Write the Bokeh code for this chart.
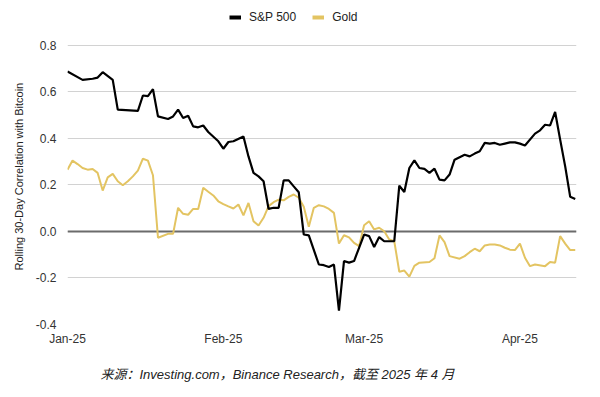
import pandas as pd
from datetime import datetime
from bokeh.plotting import figure
from bokeh.models import (ColumnDataSource, FixedTicker, DatetimeTickFormatter, Span,
                          Legend, LegendItem, Title, Range1d, NumeralTickFormatter)
from bokeh.embed import file_html
from bokeh.resources import INLINE

# ---------------- data ----------------
sp_dates = ["2025-01-01", "2025-01-04", "2025-01-06", "2025-01-07", "2025-01-08", "2025-01-10",
            "2025-01-11", "2025-01-15", "2025-01-16", "2025-01-17", "2025-01-18", "2025-01-19",
            "2025-01-21", "2025-01-22", "2025-01-23", "2025-01-24", "2025-01-25", "2025-01-26",
            "2025-01-27", "2025-01-28", "2025-01-29", "2025-01-31", "2025-02-01", "2025-02-02",
            "2025-02-03", "2025-02-05", "2025-02-06", "2025-02-07", "2025-02-08", "2025-02-09",
            "2025-02-10", "2025-02-11", "2025-02-12", "2025-02-13", "2025-02-14", "2025-02-15",
            "2025-02-16", "2025-02-17", "2025-02-18", "2025-02-20", "2025-02-21", "2025-02-22",
            "2025-02-23", "2025-02-24", "2025-02-25", "2025-02-26", "2025-02-27", "2025-02-28",
            "2025-03-01", "2025-03-02", "2025-03-03", "2025-03-04", "2025-03-05", "2025-03-07",
            "2025-03-08", "2025-03-09", "2025-03-10", "2025-03-11", "2025-03-12", "2025-03-13",
            "2025-03-14", "2025-03-15", "2025-03-16", "2025-03-17", "2025-03-18", "2025-03-19",
            "2025-03-21", "2025-03-22", "2025-03-23", "2025-03-24", "2025-03-25", "2025-03-26",
            "2025-03-27", "2025-03-28", "2025-03-29", "2025-03-30", "2025-03-31", "2025-04-01",
            "2025-04-02", "2025-04-04", "2025-04-05", "2025-04-06", "2025-04-07", "2025-04-08",
            "2025-04-09", "2025-04-10", "2025-04-11", "2025-04-12"]
sp_values = [0.688, 0.652, 0.657, 0.662, 0.685, 0.652,
             0.524, 0.519, 0.585, 0.582, 0.612, 0.495,
             0.484, 0.495, 0.524, 0.488, 0.498, 0.452,
             0.448, 0.456, 0.428, 0.388, 0.356, 0.385,
             0.388, 0.409, 0.323, 0.252, 0.237, 0.216,
             0.097, 0.102, 0.102, 0.220, 0.220, 0.194,
             0.169, -0.013, -0.017, -0.142, -0.145, -0.153,
             -0.142, -0.340, -0.127, -0.134, -0.127, -0.070,
             -0.013, -0.020, -0.067, -0.024, -0.042, -0.042,
             0.197, 0.170, 0.273, 0.306, 0.273, 0.269,
             0.252, 0.270, 0.223, 0.220, 0.245, 0.309,
             0.330, 0.323, 0.335, 0.345, 0.381, 0.378,
             0.381, 0.373, 0.378, 0.383, 0.383, 0.378,
             0.370, 0.421, 0.435, 0.459, 0.456, 0.514,
             0.395, 0.280, 0.149, 0.140]

gold_dates = ["2025-01-01", "2025-01-02", "2025-01-03", "2025-01-04", "2025-01-05", "2025-01-06",
              "2025-01-07", "2025-01-08", "2025-01-09", "2025-01-10", "2025-01-11", "2025-01-12",
              "2025-01-13", "2025-01-14", "2025-01-15", "2025-01-16", "2025-01-17", "2025-01-18",
              "2025-01-19", "2025-01-21", "2025-01-22", "2025-01-23", "2025-01-24", "2025-01-25",
              "2025-01-26", "2025-01-27", "2025-01-28", "2025-01-29", "2025-01-30", "2025-01-31",
              "2025-02-01", "2025-02-02", "2025-02-03", "2025-02-04", "2025-02-05", "2025-02-06",
              "2025-02-07", "2025-02-08", "2025-02-09", "2025-02-10", "2025-02-11", "2025-02-12",
              "2025-02-13", "2025-02-14", "2025-02-15", "2025-02-16", "2025-02-17", "2025-02-18",
              "2025-02-19", "2025-02-20", "2025-02-21", "2025-02-22", "2025-02-23", "2025-02-24",
              "2025-02-25", "2025-02-26", "2025-02-27", "2025-02-28", "2025-03-01", "2025-03-02",
              "2025-03-03", "2025-03-04", "2025-03-05", "2025-03-06", "2025-03-07", "2025-03-08",
              "2025-03-09", "2025-03-10", "2025-03-11", "2025-03-12", "2025-03-14", "2025-03-15",
              "2025-03-16", "2025-03-17", "2025-03-18", "2025-03-20", "2025-03-21", "2025-03-22",
              "2025-03-23", "2025-03-24", "2025-03-25", "2025-03-26", "2025-03-27", "2025-03-28",
              "2025-03-29", "2025-03-30", "2025-03-31", "2025-04-01", "2025-04-02", "2025-04-03",
              "2025-04-04", "2025-04-06", "2025-04-07", "2025-04-08", "2025-04-09", "2025-04-10",
              "2025-04-11", "2025-04-12"]
gold_values = [0.266, 0.305, 0.290, 0.273, 0.266, 0.269,
               0.252, 0.176, 0.233, 0.248, 0.216, 0.199,
               0.216, 0.237, 0.262, 0.313, 0.305, 0.242,
               -0.027, -0.010, -0.010, 0.102, 0.076, 0.072,
               0.097, 0.097, 0.188, 0.171, 0.155, 0.130,
               0.118, 0.108, 0.099, 0.116, 0.069, 0.123,
               0.044, 0.026, 0.059, 0.109, 0.126, 0.137,
               0.134, 0.149, 0.159, 0.145, 0.106, 0.020,
               0.102, 0.113, 0.108, 0.097, 0.080, -0.052,
               -0.016, -0.025, -0.049, -0.063, 0.027, 0.044,
               0.009, 0.016, 0.001, -0.034, -0.042, -0.173,
               -0.168, -0.194, -0.148, -0.134, -0.131, -0.115,
               -0.017, -0.046, -0.106, -0.117, -0.106, -0.089,
               -0.074, -0.085, -0.060, -0.056, -0.056, -0.060,
               -0.070, -0.078, -0.080, -0.052, -0.113, -0.149,
               -0.142, -0.149, -0.131, -0.134, -0.020, -0.052,
               -0.080, -0.080]

x_tick_dates = ["2025-01-01", "2025-02-01", "2025-03-01", "2025-04-01"]
y_ticks = [-0.4, -0.2, 0.0, 0.2, 0.4, 0.6, 0.8]
series_names = ["S&P 500", "Gold"]
y_title = "Rolling 30-Day Correlation with Bitcoin"
caption = "来源：Investing.com，Binance Research，截至 2025 年 4 月"

SP_COLOR = "#000000"
GOLD_COLOR = "#E3C462"
FONT = "Liberation Sans"

# ---------------- figure ----------------
# The frame reaches the top of the figure so that the legend (drawn inside it) is visible;
# the value 0.8 still sits 45 px below the top.
p = figure(width=600, height=397, output_backend="svg", toolbar_location=None,
           x_axis_type="datetime",
           x_range=Range1d(datetime(2025, 1, 1), datetime(2025, 4, 12, 6)),
           y_range=Range1d(-0.4, 0.9935),
           min_border_left=67, min_border_right=24, min_border_top=0, min_border_bottom=73)
p.outline_line_color = None
p.background_fill_color = "white"
p.border_fill_color = "white"

sp_src = ColumnDataSource(dict(x=pd.to_datetime(sp_dates), y=sp_values))
gold_src = ColumnDataSource(dict(x=pd.to_datetime(gold_dates), y=gold_values))

# zero line
p.add_layout(Span(location=0, dimension="width", line_color="#6b6b6b", line_width=2, level="underlay"))

p.line("x", "y", source=gold_src, line_color=GOLD_COLOR, line_width=2)
p.line("x", "y", source=sp_src, line_color=SP_COLOR, line_width=2.2)

# legend proxies (thicker bars), their single point lies outside the visible ranges
proxy = ColumnDataSource(dict(x=[datetime(2000, 1, 1)], y=[5.0]))
r_sp = p.line("x", "y", source=proxy, line_color=SP_COLOR, line_width=4)
r_gd = p.line("x", "y", source=proxy, line_color=GOLD_COLOR, line_width=4)
legend = Legend(items=[LegendItem(label=series_names[0], renderers=[r_sp]),
                       LegendItem(label=series_names[1], renderers=[r_gd])],
                orientation="horizontal", location=(162, 298),
                glyph_width=12, glyph_height=18, label_height=18, label_standoff=8, spacing=16,
                padding=0, margin=0, border_line_color=None, background_fill_alpha=0,
                label_text_font=FONT, label_text_font_size="12px", label_text_color="#222222")
p.add_layout(legend, "center")

# axes
p.xaxis.ticker = FixedTicker(ticks=[pd.Timestamp(d).value // 10**6 for d in x_tick_dates])
p.xaxis.formatter = DatetimeTickFormatter(days="%b-%y", months="%b-%y")
p.yaxis.ticker = FixedTicker(ticks=y_ticks)
p.yaxis.formatter = NumeralTickFormatter(format="0.0")
for ax in (p.xaxis[0], p.yaxis[0]):
    ax.axis_line_color = None
    ax.major_tick_line_color = None
    ax.minor_tick_line_color = None
    ax.major_label_text_font = FONT
    ax.major_label_text_font_size = "12px"
    ax.major_label_text_color = "#333333"
p.xaxis.major_label_standoff = 1
p.yaxis.major_label_standoff = 5

p.xgrid.grid_line_color = None
p.ygrid.grid_line_color = "#d2d2d2"
p.ygrid.grid_line_width = 1

# y title as a left-side Title so it can be positioned along the axis
p.add_layout(Title(text=y_title, align="left", offset=54, standoff=16,
                   text_font=FONT, text_font_style="normal",
                   text_font_size="11px", text_color="#222222"), "left")

p.add_layout(Title(text=caption, align="left", offset=33, standoff=32,
                   text_font="Liberation Sans, Noto Sans CJK SC", text_font_style="italic",
                   text_font_size="13px", text_color="#222222"), "below")

open("out.html", "w").write(file_html(p, INLINE))
